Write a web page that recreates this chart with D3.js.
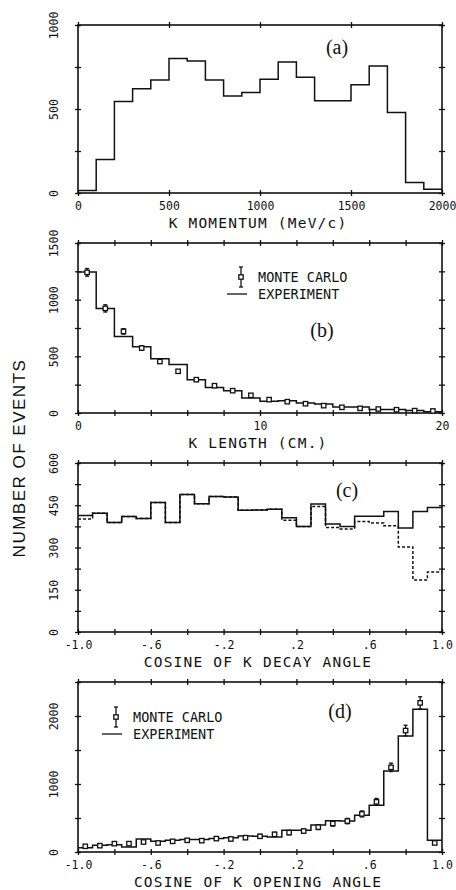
<!DOCTYPE html>
<html>
<head>
<meta charset="utf-8">
<script src="https://cdn.jsdelivr.net/npm/d3@7"></script>
<style>
  body { margin: 0; background: #fff; }
  svg { display: block; }
</style>
</head>
<body>
<svg id="chart" width="456" height="890"></svg>
<script>
// (a) K momentum, 100 MeV/c bins
const momEdges = [0, 100, 200, 300, 400, 500, 600, 700, 800, 900, 1000, 1100, 1200, 1300, 1400, 1500, 1600, 1700, 1800, 1900, 2000];
const momCounts = [15, 200, 545, 620, 673, 800, 786, 673, 578, 598, 677, 780, 689, 549, 549, 644, 756, 479, 63, 22];
const momTicks = [0, 500, 1000, 1500, 2000];
const momTickLabels = ['0', '500', '1000', '1500', '2000'];
const momYTicks = [0, 250, 500, 750, 1000];
const momYLabels = ['0', '', '500', '', '1000'];

// (b) K length, 1 cm bins
const lenEdges = [0, 1, 2, 3, 4, 5, 6, 7, 8, 9, 10, 11, 12, 13, 14, 15, 16, 17, 18, 19, 20];
const lenExp = [1245, 922, 676, 585, 478, 429, 294, 225, 196, 133, 104, 108, 88, 79, 53, 53, 30, 30, 22, 12];
const lenMC = [1241, 923, 720, 573, 454, 368, 294, 241, 197, 156, 118, 100, 82, 65, 50, 41, 35, 29, 21, 18];
const lenErr = [34, 32, 24, 20, 16, 14, 12, 11, 10, 9, 8, 7, 6, 6, 5, 5, 4, 4, 3, 3];
const lenTicks = [0, 2, 4, 6, 8, 10, 12, 14, 16, 18, 20];
const lenTickLabels = ['0', '', '', '', '', '10', '', '', '', '', '20'];
const lenYTicks = [0, 250, 500, 750, 1000, 1250, 1500];
const lenYLabels = ['0', '', '500', '', '1000', '', '1500'];

// (c) and (d) share cosine bins of 0.08
const cosEdges = [-1, -0.92, -0.84, -0.76, -0.68, -0.6, -0.52, -0.44, -0.36, -0.28, -0.2, -0.12, -0.04,
                  0.04, 0.12, 0.2, 0.28, 0.36, 0.44, 0.52, 0.6, 0.68, 0.76, 0.84, 0.92, 1];
const cosTicks = [-1, -0.8, -0.6, -0.4, -0.2, 0, 0.2, 0.4, 0.6, 0.8, 1];
const cosTickLabels = ['-1.0', '', '-.6', '', '-.2', '', '.2', '', '.6', '', '1.0'];

// (c) cosine of K decay angle
const decayExp = [414, 422, 389, 410, 403, 460, 389, 488, 455, 481, 479, 432, 433, 436, 406, 375, 454, 383, 375, 411, 411, 428, 369, 428, 442];
const decayMC = [401, 422, 389, 410, 403, 460, 389, 488, 455, 481, 479, 432, 433, 436, 397, 375, 446, 371, 366, 392, 387, 377, 302, 185, 213];
const decayYTicks = [0, 75, 150, 225, 300, 375, 450, 525, 600];
const decayYLabels = ['0', '', '150', '', '300', '', '450', '', '600'];

// (d) cosine of K opening angle
const openExp = [64, 98, 108, 74, 192, 157, 172, 182, 182, 197, 211, 236, 231, 221, 319, 319, 398, 460, 456, 541, 689, 1191, 1707, 2101, 173];
const openMC = [84, 93, 123, 123, 147, 133, 157, 172, 167, 197, 192, 211, 231, 260, 285, 308, 365, 419, 455, 560, 738, 1245, 1786, 2193, 133];
const openErr = [18, 18, 20, 20, 22, 21, 23, 24, 24, 26, 26, 27, 28, 30, 31, 32, 35, 38, 40, 44, 50, 62, 78, 90, 21];
const openYTicks = [0, 500, 1000, 1500, 2000, 2500];
const openYLabels = ['0', '', '1000', '', '2000', ''];

const svg = d3.select('#chart');
const ink = '#111';
const mono = "'DejaVu Sans Mono', monospace";
const left = 78, right = 442;

function stepPath(edges, values) {
    // points at each left edge, last one repeated at the right edge
    const pts = values.map((v, i) => [edges[i], v]);
    pts.push([edges[edges.length - 1], values[values.length - 1]]);
    return pts;
}

function drawPanel(o) {
    const g = svg.append('g');
    const x = d3.scaleLinear().domain(o.xDomain).range([left, right]);
    const y = d3.scaleLinear().domain(o.yDomain).range([o.bottom, o.top]);

    // ticks on all four sides, crossing the frame
    const bottomAxis = g.append('g')
        .attr('transform', `translate(0,${o.bottom})`)
        .call(d3.axisBottom(x).tickValues(o.xTicks).tickFormat((d, i) => o.xLabels[i]).tickSizeOuter(0));
    const topAxis = g.append('g')
        .attr('transform', `translate(0,${o.top})`)
        .call(d3.axisTop(x).tickValues(o.xTicks).tickFormat('').tickSizeOuter(0));
    const leftAxis = g.append('g')
        .attr('transform', `translate(${left},0)`)
        .call(d3.axisLeft(y).tickValues(o.yTicks).tickFormat((d, i) => o.yLabels[i]).tickSizeOuter(0));
    const rightAxis = g.append('g')
        .attr('transform', `translate(${right},0)`)
        .call(d3.axisRight(y).tickValues(o.yTicks).tickFormat('').tickSizeOuter(0));

    [bottomAxis, topAxis].forEach(a => a.selectAll('.tick line').attr('y1', -3).attr('y2', 3));
    [leftAxis, rightAxis].forEach(a => a.selectAll('.tick line').attr('x1', -3).attr('x2', 3));
    g.selectAll('.domain').remove();
    g.selectAll('.tick line').attr('stroke', ink).attr('stroke-width', 1.3);

    bottomAxis.selectAll('.tick text')
        .attr('y', 17).attr('dy', null)
        .attr('font-family', mono).attr('font-size', 11.5).attr('fill', ink);
    leftAxis.selectAll('.tick text')
        .attr('x', 0).attr('y', -20).attr('dy', null)
        .attr('transform', 'rotate(-90)')
        .attr('text-anchor', 'middle')
        .attr('font-family', mono).attr('font-size', 11.5).attr('fill', ink);

    g.append('rect')
        .attr('x', left).attr('y', o.top)
        .attr('width', right - left).attr('height', o.bottom - o.top)
        .attr('fill', 'none').attr('stroke', ink).attr('stroke-width', 1.6);

    const line = d3.line()
        .x(d => x(d[0])).y(d => y(d[1]))
        .curve(d3.curveStepAfter);

    if (o.dashed) {
        g.append('path')
            .attr('d', line(stepPath(o.edges, o.dashed)))
            .attr('fill', 'none').attr('stroke', ink)
            .attr('stroke-width', 1.5).attr('stroke-dasharray', '3,2');
    }
    g.append('path')
        .attr('d', line(stepPath(o.edges, o.solid)))
        .attr('fill', 'none').attr('stroke', ink).attr('stroke-width', 1.5);

    if (o.points) {
        const centers = o.points.map((v, i) => (o.edges[i] + o.edges[i + 1]) / 2);
        const pg = g.append('g').attr('stroke', ink).attr('stroke-width', 1.3);
        o.points.forEach((v, i) => {
            const cx = x(centers[i]);
            const e = o.errors[i];
            pg.append('line').attr('x1', cx).attr('x2', cx).attr('y1', y(v - e)).attr('y2', y(v + e));
            [v - e, v + e].forEach(t => pg.append('line')
                .attr('x1', cx - 2).attr('x2', cx + 2).attr('y1', y(t)).attr('y2', y(t)));
            pg.append('rect')
                .attr('x', cx - 2.2).attr('y', y(v) - 2.2)
                .attr('width', 4.4).attr('height', 4.4)
                .attr('fill', '#fff');
        });
    }

    g.append('text')
        .attr('x', (left + right) / 2 - 2).attr('y', o.bottom + 35)
        .attr('text-anchor', 'middle')
        .attr('font-family', mono).attr('font-size', 14.5).attr('letter-spacing', 1.2)
        .attr('fill', ink)
        .text(o.title);

    g.append('text')
        .attr('x', o.tag[0]).attr('y', o.tag[1])
        .attr('text-anchor', 'middle')
        .attr('font-family', "'Liberation Serif', serif").attr('font-size', 20)
        .attr('fill', ink)
        .text(o.tagText);

    if (o.legend) {
        const [lx, ly] = o.legend;
        const lg = g.append('g').attr('stroke', ink).attr('stroke-width', 1.3);
        lg.append('line').attr('x1', lx).attr('x2', lx).attr('y1', ly - 10).attr('y2', ly + 10);
        lg.append('line').attr('x1', lx - 2).attr('x2', lx + 2).attr('y1', ly - 10).attr('y2', ly - 10);
        lg.append('line').attr('x1', lx - 2).attr('x2', lx + 2).attr('y1', ly + 10).attr('y2', ly + 10);
        lg.append('rect').attr('x', lx - 2.2).attr('y', ly - 2.2).attr('width', 4.4).attr('height', 4.4).attr('fill', '#fff');
        lg.append('line').attr('x1', lx - 14).attr('x2', lx + 6).attr('y1', ly + 17).attr('y2', ly + 17);
        g.append('text').attr('x', lx + 17).attr('y', ly + 5)
            .attr('font-family', mono).attr('font-size', 13.5).attr('fill', ink)
            .text('MONTE CARLO');
        g.append('text').attr('x', lx + 17).attr('y', ly + 22)
            .attr('font-family', mono).attr('font-size', 13.5).attr('fill', ink)
            .text('EXPERIMENT');
    }
}

drawPanel({
    top: 25, bottom: 193,
    xDomain: [0, 2000], yDomain: [0, 1000],
    xTicks: momTicks, xLabels: momTickLabels,
    yTicks: momYTicks, yLabels: momYLabels,
    edges: momEdges, solid: momCounts,
    title: 'K MOMENTUM (MeV/c)',
    tag: [337, 54], tagText: '(a)'
});

drawPanel({
    top: 243, bottom: 413,
    xDomain: [0, 20], yDomain: [0, 1500],
    xTicks: lenTicks, xLabels: lenTickLabels,
    yTicks: lenYTicks, yLabels: lenYLabels,
    edges: lenEdges, solid: lenExp, points: lenMC, errors: lenErr,
    title: 'K LENGTH (CM.)',
    tag: [322, 337], tagText: '(b)',
    legend: [241, 277]
});

drawPanel({
    top: 463, bottom: 632,
    xDomain: [-1, 1], yDomain: [0, 600],
    xTicks: cosTicks, xLabels: cosTickLabels,
    yTicks: decayYTicks, yLabels: decayYLabels,
    edges: cosEdges, solid: decayExp, dashed: decayMC,
    title: 'COSINE OF K DECAY ANGLE',
    tag: [347, 497], tagText: '(c)'
});

drawPanel({
    top: 682, bottom: 852,
    xDomain: [-1, 1], yDomain: [0, 2500],
    xTicks: cosTicks, xLabels: cosTickLabels,
    yTicks: openYTicks, yLabels: openYLabels,
    edges: cosEdges, solid: openExp, points: openMC, errors: openErr,
    title: 'COSINE OF K OPENING ANGLE',
    tag: [340, 718], tagText: '(d)',
    legend: [116, 717]
});

// shared y-axis title
svg.append('text')
    .attr('transform', 'translate(25,458) rotate(-90)')
    .attr('text-anchor', 'middle')
    .attr('font-family', "'Liberation Sans', Arial, sans-serif")
    .attr('font-size', 17).attr('letter-spacing', 1.5)
    .attr('fill', ink)
    .text('NUMBER OF EVENTS');
</script>
</body>
</html>
